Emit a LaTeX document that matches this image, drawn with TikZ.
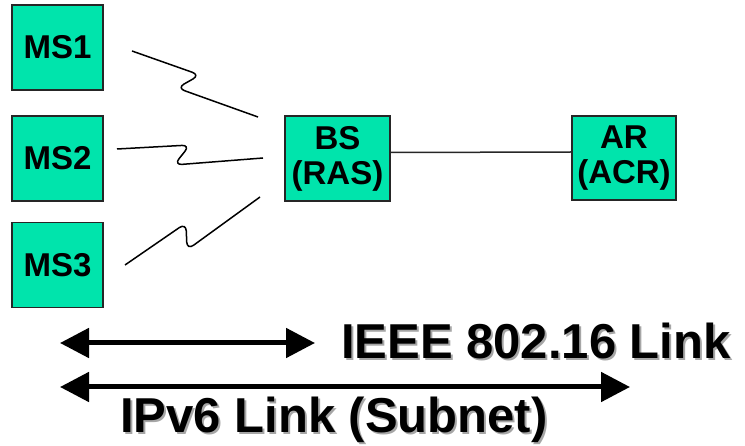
\documentclass[tikz,border=0pt]{standalone}
\usepackage{fontspec}
\setmainfont{Liberation Sans}
\usetikzlibrary{arrows.meta}
\definecolor{stationgreen}{RGB}{0,228,172}
\newcommand{\dropshadow}[1]{\rlap{\kern2pt\raisebox{-2pt}{\textcolor{black!35}{#1}}}#1}

\begin{document}
\begin{tikzpicture}[x=1pt,y=-1pt,
  station/.style={draw=black!85, line width=1.5pt, fill=stationgreen, minimum width=91pt, minimum height=85pt, inner sep=0pt, align=center, font=\bfseries\fontsize{33}{35}\selectfont},
  radio/.style={line width=1.5pt, rounded corners=8pt},
  span/.style={line width=5pt, {Triangle[length=29pt,width=29pt]}-{Triangle[length=29pt,width=29pt]}},
  caption/.style={anchor=base west, inner sep=0pt, font=\bfseries\fontsize{49}{55}\selectfont}]
\useasboundingbox (0,0) rectangle (745,446);
% Mobile stations
\foreach \n/\y in {1/47.5,2/158.5,3/265} {
  \node[station] (ms\n) at (57.5,\y) {MS\n};
}
% Base station and access router
\node[station, minimum width=105pt] (bs) at (337.5,158.5) {BS\\(RAS)};
\node[station, minimum width=104pt, minimum height=84pt] (ar) at (624,158) {AR\\(ACR)};
\draw[line width=1.5pt, black!85] ([yshift=6pt]bs.east) -- ([yshift=6pt]ar.west);
% Radio links
\coordinate (ms1r) at (132,51);  \coordinate (bs1) at (258,117);
\coordinate (ms2r) at (117,149); \coordinate (bs2) at (263,158);
\coordinate (ms3r) at (125,265); \coordinate (bs3) at (260,197);
\draw[radio] (ms1r) -- (200,75) -- (177,88) -- (bs1);
\draw[radio] (ms2r) -- (190,145) -- (174,165) -- (bs2);
\draw[radio] (ms3r) -- (186,223) -- (187,250) -- (bs3);
% Link extents
\coordinate (l2a) at (60,343);  \coordinate (l2b) at (315,343);
\coordinate (l3a) at (60,387);  \coordinate (l3b) at (630,387);
\draw[span] (l2a) -- (l2b);
\draw[span] (l3a) -- (l3b);
\node[caption] (l2txt) at (341,359) {\dropshadow{IEEE 802.16 Link}};
\node[caption] (l3txt) at (120,432) {\dropshadow{IPv6 Link (Subnet)}};
\end{tikzpicture}
\end{document}
